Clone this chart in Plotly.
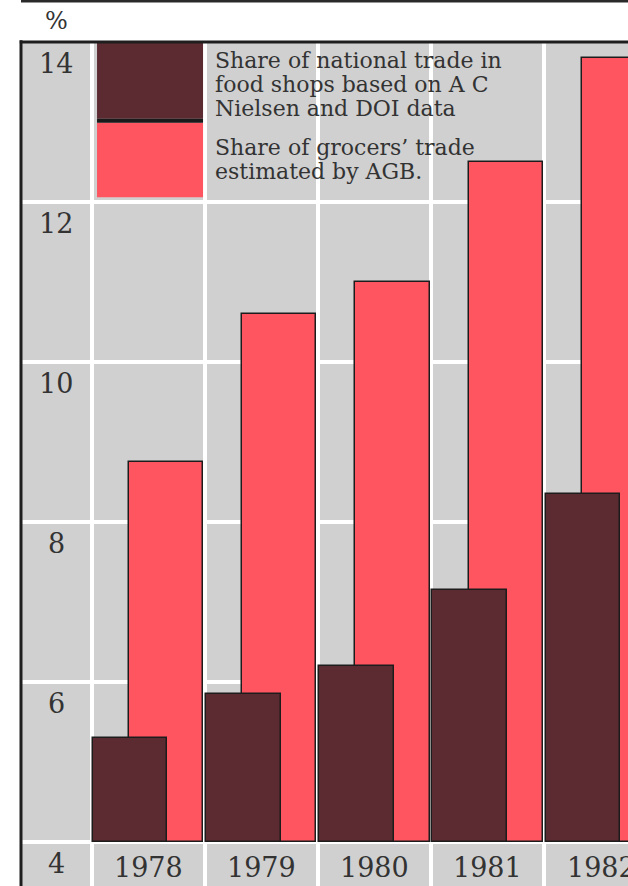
import plotly.graph_objects as go

# Share of trade, per cent
years = [1978, 1979, 1980, 1981, 1982]
nielsen_doi = [5.3, 5.85, 6.2, 7.15, 8.35]
agb_grocers = [8.75, 10.6, 11.0, 12.5, 13.8]
y_ticks = [4, 6, 8, 10, 12, 14]
key_nielsen_lines = [
    "Share of national trade in",
    "food shops based on A C",
    "Nielsen and DOI data",
]
key_agb_lines = [
    "Share of grocers\u2019 trade",
    "estimated by AGB.",
]

BASE = 4
DARK = "#5c2a31"
RED = "#ff5561"
GREY = "#d0d0d0"
INK = "#333333"
FONT = "DejaVu Serif"

x_range = [1976.8775, 1982.2375]
y_range = [3.45, 14]
label_x = (x_range[0] + years[0] - 0.5) / 2

fig = go.Figure()

fig.add_trace(go.Bar(
    x=years, y=[v - BASE for v in agb_grocers], base=BASE,
    width=0.655, offset=-0.17,
    marker=dict(color=RED, line=dict(color="#1c1c1c", width=1.5)),
    name="AGB", showlegend=False,
))
fig.add_trace(go.Bar(
    x=years, y=[v - BASE for v in nielsen_doi], base=BASE,
    width=0.66, offset=-0.49,
    marker=dict(color=DARK, line=dict(color="#1c1c1c", width=1.5)),
    name="Nielsen / DOI", showlegend=False,
))

annotations = []
for t in y_ticks:
    annotations.append(dict(
        x=label_x, y=t, xref="x", yref="y", text=str(t), showarrow=False,
        xanchor="center", yanchor="middle", yshift=-21,
        font=dict(family=FONT, size=27, color=INK),
    ))
for yr in years:
    annotations.append(dict(
        x=yr, y=BASE, xref="x", yref="y", text=str(yr), showarrow=False,
        xanchor="center", yanchor="middle", yshift=-25,
        font=dict(family=FONT, size=27, color=INK),
    ))
annotations.append(dict(
    x=label_x, y=1, xref="x", yref="paper", text="%", showarrow=False,
    xanchor="center", yanchor="bottom", yshift=5,
    font=dict(family=FONT, size=24, color=INK),
))

# key boxes and their captions in the top-left cell
key_x0, key_x1 = 1977.549, 1978.485
legend_tx = 1978.572
LINE_STEP = 24
for block, first_shift in ((key_nielsen_lines, -4), (key_agb_lines, -91)):
    for i, line in enumerate(block):
        annotations.append(dict(
            x=legend_tx, y=14, xref="x", yref="y", text=line, showarrow=False,
            xanchor="left", yanchor="top", yshift=first_shift - i * LINE_STEP,
            align="left", font=dict(family=FONT, size=22, color=INK),
        ))

shapes = [
    dict(type="rect", xref="x", yref="y", x0=key_x0, x1=key_x1, y0=13.04, y1=14,
         fillcolor=DARK, line=dict(width=0), layer="above"),
    dict(type="rect", xref="x", yref="y", x0=key_x0, x1=key_x1, y0=12.06, y1=12.99,
         fillcolor=RED, line=dict(width=0), layer="above"),
    dict(type="rect", xref="x", yref="y", x0=key_x0, x1=key_x1, y0=12.99, y1=13.04,
         fillcolor="#1a1a1a", line=dict(width=0), layer="above"),
    # frame: left and top rules, plus the thin rule above the chart
    dict(type="line", xref="paper", yref="paper", x0=0, x1=0, y0=0, y1=1.002,
         line=dict(color="#1e1e1e", width=3), layer="above"),
    dict(type="line", xref="paper", yref="paper", x0=-0.002, x1=1, y0=1, y1=1,
         line=dict(color="#1e1e1e", width=3), layer="above"),
    dict(type="line", xref="paper", yref="paper", x0=0, x1=1, y0=1.0485, y1=1.0485,
         line=dict(color="#2a2a2a", width=3), layer="above"),
]

fig.update_layout(
    width=628, height=886,
    margin=dict(l=21, r=0, t=42, b=0, pad=0),
    paper_bgcolor="white", plot_bgcolor=GREY,
    barmode="overlay", bargap=0,
    showlegend=False,
    annotations=annotations, shapes=shapes,
    xaxis=dict(range=x_range, tickvals=[y - 0.5 for y in years + [1983]],
               showticklabels=False, ticks="", showgrid=True,
               gridcolor="white", gridwidth=4, zeroline=False, showline=False,
               fixedrange=True),
    yaxis=dict(range=y_range, tickvals=y_ticks, showticklabels=False, ticks="",
               showgrid=True, gridcolor="white", gridwidth=4, zeroline=False,
               showline=False, fixedrange=True),
)

fig.write_html("out.html", config={"displayModeBar": False})
